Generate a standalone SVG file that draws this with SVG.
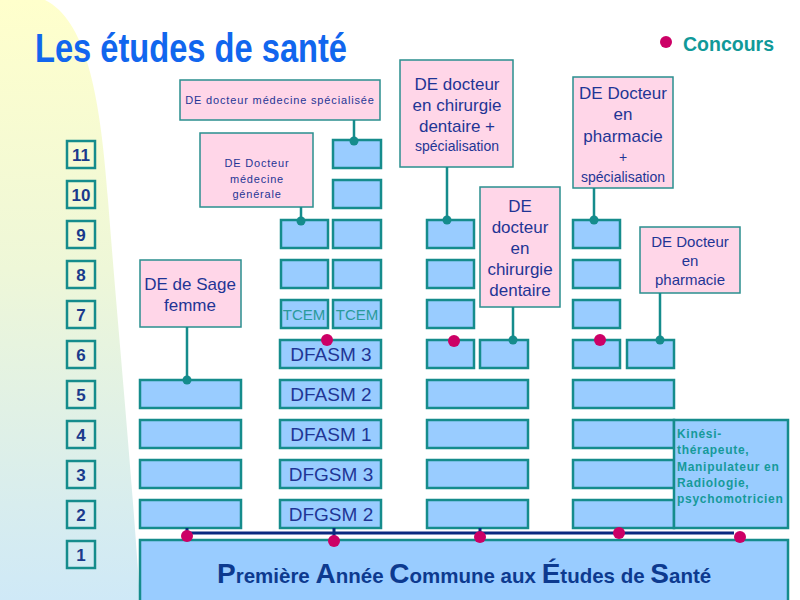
<svg xmlns="http://www.w3.org/2000/svg" width="800" height="600" viewBox="0 0 800 600">
<defs>
<linearGradient id="bg" x1="0" y1="0" x2="0" y2="1">
<stop offset="0" stop-color="#ffffcc"/>
<stop offset="0.45" stop-color="#eef7d8"/>
<stop offset="1" stop-color="#cfe9f7"/>
</linearGradient>
<style>
.yr{fill:none;stroke:#158c8c;stroke-width:2.5}
.yt{font-family:"Liberation Sans",Arial,sans-serif;font-weight:bold;font-size:17px;fill:#1a3a8c;text-anchor:middle}
.bx{fill:#99ccff;stroke:#158c8c;stroke-width:2.5}
.pk{fill:#ffd6e8;stroke:#2a8f8f;stroke-width:1.5}
.lb{font-family:"Liberation Sans",Arial,sans-serif;fill:#1f3595;text-anchor:middle}
.cn{stroke:#158c8c;stroke-width:2.5;fill:none}
.cd{fill:#158c8c}
.kd{fill:#cc0066}
.tc{font-family:"Liberation Sans",Arial,sans-serif;font-size:15px;fill:#2a9a9a;text-anchor:middle}
</style>
</defs>
<rect width="800" height="600" fill="#ffffff"/>
<path d="M0,0 H45 C85,20 100,90 108,200 C118,330 130,450 140,600 H0 Z" fill="url(#bg)"/>

<text x="35" y="62" font-family="Liberation Sans,Arial,sans-serif" font-weight="bold" font-size="40" fill="#1166ee" textLength="312" lengthAdjust="spacingAndGlyphs">Les études de santé</text>

<g id="legend">
<circle cx="666" cy="42" r="6" class="kd"/>
<text x="683" y="51" font-family="Liberation Sans,Arial,sans-serif" font-weight="bold" font-size="20" fill="#109999" textLength="91" lengthAdjust="spacingAndGlyphs">Concours</text>
</g>

<g id="years">
<rect class="yr" x="67" y="141" width="28" height="27"/><text class="yt" x="81" y="161">11</text>
<rect class="yr" x="67" y="181" width="28" height="27"/><text class="yt" x="81" y="201">10</text>
<rect class="yr" x="67" y="221" width="28" height="27"/><text class="yt" x="81" y="241">9</text>
<rect class="yr" x="67" y="261" width="28" height="27"/><text class="yt" x="81" y="281">8</text>
<rect class="yr" x="67" y="301" width="28" height="27"/><text class="yt" x="81" y="321">7</text>
<rect class="yr" x="67" y="341" width="28" height="27"/><text class="yt" x="81" y="361">6</text>
<rect class="yr" x="67" y="381" width="28" height="27"/><text class="yt" x="81" y="401">5</text>
<rect class="yr" x="67" y="421" width="28" height="27"/><text class="yt" x="81" y="441">4</text>
<rect class="yr" x="67" y="461" width="28" height="27"/><text class="yt" x="81" y="481">3</text>
<rect class="yr" x="67" y="501" width="28" height="27"/><text class="yt" x="81" y="521">2</text>
<rect class="yr" x="67" y="541" width="28" height="27"/><text class="yt" x="81" y="561">1</text>
</g>

<g id="paces">
<rect class="bx" x="140" y="540" width="648" height="70"/>
<text x="217" y="583" font-family="Liberation Sans,Arial,sans-serif" font-weight="bold" font-size="20.5" fill="#0d3a8f"><tspan font-size="28">P</tspan>remière <tspan font-size="28">A</tspan>nnée <tspan font-size="28">C</tspan>ommune aux <tspan font-size="28">É</tspan>tudes de <tspan font-size="28">S</tspan>anté</text>
</g>

<g id="col-sage">
<rect class="bx" x="140" y="380" width="101" height="28"/>
<rect class="bx" x="140" y="420" width="101" height="28"/>
<rect class="bx" x="140" y="460" width="101" height="28"/>
<rect class="bx" x="140" y="500" width="101" height="28"/>
</g>

<g id="col-medecine">
<rect class="bx" x="333" y="140" width="48" height="28"/>
<rect class="bx" x="333" y="180" width="48" height="28"/>
<rect class="bx" x="281" y="220" width="47" height="28"/>
<rect class="bx" x="333" y="220" width="48" height="28"/>
<rect class="bx" x="281" y="260" width="47" height="28"/>
<rect class="bx" x="333" y="260" width="48" height="28"/>
<rect class="bx" x="281" y="300" width="47" height="28"/>
<rect class="bx" x="333" y="300" width="48" height="28"/>
<text class="tc" x="304" y="320">TCEM</text>
<text class="tc" x="357" y="320">TCEM</text>
<rect class="bx" x="280" y="340" width="101" height="28"/>
<rect class="bx" x="280" y="380" width="101" height="28"/>
<rect class="bx" x="280" y="420" width="101" height="28"/>
<rect class="bx" x="280" y="460" width="101" height="28"/>
<rect class="bx" x="280" y="500" width="101" height="28"/>
<text class="lb" x="331" y="361" font-size="19">DFASM 3</text>
<text class="lb" x="331" y="401" font-size="19">DFASM 2</text>
<text class="lb" x="331" y="441" font-size="19">DFASM 1</text>
<text class="lb" x="331" y="481" font-size="19">DFGSM 3</text>
<text class="lb" x="331" y="521" font-size="19">DFGSM 2</text>
</g>

<g id="col-dentaire">
<rect class="bx" x="427" y="220" width="47" height="28"/>
<rect class="bx" x="427" y="260" width="47" height="28"/>
<rect class="bx" x="427" y="300" width="47" height="28"/>
<rect class="bx" x="427" y="340" width="47" height="28"/>
<rect class="bx" x="480" y="340" width="48" height="28"/>
<rect class="bx" x="427" y="380" width="101" height="28"/>
<rect class="bx" x="427" y="420" width="101" height="28"/>
<rect class="bx" x="427" y="460" width="101" height="28"/>
<rect class="bx" x="427" y="500" width="101" height="28"/>
</g>

<g id="col-pharmacie">
<rect class="bx" x="573" y="220" width="47" height="28"/>
<rect class="bx" x="573" y="260" width="47" height="28"/>
<rect class="bx" x="573" y="300" width="47" height="28"/>
<rect class="bx" x="573" y="340" width="47" height="28"/>
<rect class="bx" x="627" y="340" width="47" height="28"/>
<rect class="bx" x="573" y="380" width="101" height="28"/>
<rect class="bx" x="573" y="420" width="101" height="28"/>
<rect class="bx" x="573" y="460" width="101" height="28"/>
<rect class="bx" x="573" y="500" width="101" height="28"/>
</g>

<g id="paramedical">
<rect class="bx" x="674" y="420" width="114" height="108"/>
<text font-family="Liberation Sans,Arial,sans-serif" font-weight="bold" font-size="12" fill="#169a9a" letter-spacing="0.7">
<tspan x="677" y="438">Kinési-</tspan>
<tspan x="677" y="454">thérapeute,</tspan>
<tspan x="677" y="471">Manipulateur en</tspan>
<tspan x="677" y="487">Radiologie,</tspan>
<tspan x="677" y="503">psychomotricien</tspan>
</text>
</g>

<g id="de-specialisee">
<rect class="pk" x="180" y="80" width="200" height="40"/>
<text class="lb" x="280" y="104" font-size="11" letter-spacing="0.85">DE docteur médecine spécialisée</text>
</g>
<g id="de-generale">
<rect class="pk" x="200" y="133" width="113" height="74"/>
<text class="lb" font-size="11" letter-spacing="0.8"><tspan x="257" y="167">DE Docteur</tspan><tspan x="257" y="183">médecine</tspan><tspan x="257" y="198">générale</tspan></text>
</g>
<g id="de-dentaire-spe">
<rect class="pk" x="400" y="60" width="113" height="107"/>
<text class="lb" font-size="17"><tspan x="457" y="90">DE docteur</tspan><tspan x="457" y="111">en chirurgie</tspan><tspan x="457" y="132">dentaire +</tspan><tspan x="457" y="151" font-size="14">spécialisation</tspan></text>
</g>
<g id="de-dentaire">
<rect class="pk" x="480" y="187" width="80" height="120"/>
<text class="lb" font-size="17"><tspan x="520" y="212">DE</tspan><tspan x="520" y="233">docteur</tspan><tspan x="520" y="254">en</tspan><tspan x="520" y="275">chirurgie</tspan><tspan x="520" y="296">dentaire</tspan></text>
</g>
<g id="de-pharmacie-spe">
<rect class="pk" x="573" y="77" width="100" height="111"/>
<text class="lb" font-size="17"><tspan x="623" y="99">DE Docteur</tspan><tspan x="623" y="120">en</tspan><tspan x="623" y="142">pharmacie</tspan><tspan x="623" y="162" font-size="14">+</tspan><tspan x="623" y="182" font-size="14">spécialisation</tspan></text>
</g>
<g id="de-pharmacie">
<rect class="pk" x="640" y="227" width="100" height="66"/>
<text class="lb" font-size="15"><tspan x="690" y="247">DE Docteur</tspan><tspan x="690" y="266">en</tspan><tspan x="690" y="285">pharmacie</tspan></text>
</g>
<g id="de-sage-femme">
<rect class="pk" x="140" y="260" width="101" height="67"/>
<text class="lb" font-size="17"><tspan x="190" y="290">DE de Sage</tspan><tspan x="190" y="311">femme</tspan></text>
</g>

<g id="connectors">
<path class="cn" d="M354,120 V141 M301,207 V221 M447,167 V220 M594,188 V220 M513,307 V340 M660,293 V340 M187,327 V380"/>
<circle class="cd" cx="354" cy="141" r="4.5"/>
<circle class="cd" cx="301" cy="221" r="4.5"/>
<circle class="cd" cx="447" cy="220" r="4.5"/>
<circle class="cd" cx="594" cy="220" r="4.5"/>
<circle class="cd" cx="513" cy="340" r="4.5"/>
<circle class="cd" cx="660" cy="340" r="4.5"/>
<circle class="cd" cx="187" cy="380" r="4.5"/>
<path d="M187,533 H734 M187,528 V533 M334,528 V540 M480,528 V537" stroke="#0a2a80" stroke-width="3" fill="none"/>
<circle class="kd" cx="187" cy="536" r="6"/>
<circle class="kd" cx="334" cy="541" r="6"/>
<circle class="kd" cx="480" cy="537" r="6"/>
<circle class="kd" cx="619" cy="533" r="6"/>
<circle class="kd" cx="740" cy="537" r="6"/>
<circle class="kd" cx="327" cy="340" r="6"/>
<circle class="kd" cx="454" cy="341" r="6"/>
<circle class="kd" cx="600" cy="340" r="6"/>
</g>
</svg>
